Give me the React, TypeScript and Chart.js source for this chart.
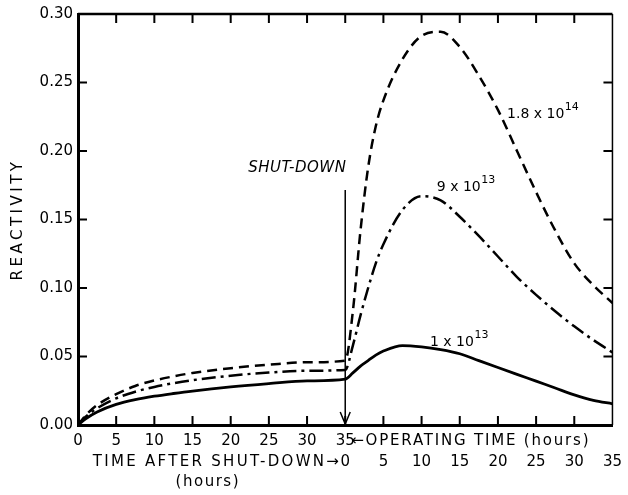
import React, { useEffect, useRef } from 'react';
import { Chart, registerables } from 'chart.js';

Chart.register(...registerables);

// Hours of operation (first phase, plotted 0..35)
const operatingTime = [0, 1, 2.5, 5, 7.5, 10, 12.5, 15, 20, 25, 30, 35];
const fluxHighOperating = [0, 0.007, 0.0145, 0.0225, 0.0285, 0.0325, 0.0355, 0.038, 0.0415, 0.044, 0.0458, 0.047];
const fluxMidOperating = [0, 0.006, 0.0122, 0.0195, 0.0243, 0.0278, 0.0305, 0.0327, 0.036, 0.0383, 0.0396, 0.0402];
const fluxLowOperating = [0, 0.0045, 0.0095, 0.015, 0.0185, 0.021, 0.023, 0.0248, 0.0278, 0.0302, 0.0322, 0.0335];

// Hours after shut-down (second phase, plotted 35..70)
const shutdownTime = [0, 1, 2, 3, 4, 5, 7.5, 10, 12.5, 15, 17.5, 20, 22.5, 25, 27.5, 30, 32.5, 35];
const fluxHighShutdown = [0.047, 0.083, 0.142, 0.188, 0.218, 0.237, 0.267, 0.284, 0.287, 0.276, 0.255, 0.23, 0.2, 0.17, 0.142, 0.118, 0.102, 0.089];
const fluxMidShutdown = [0.0402, 0.058, 0.08, 0.1, 0.118, 0.132, 0.157, 0.167, 0.164, 0.152, 0.138, 0.123, 0.108, 0.095, 0.083, 0.072, 0.062, 0.053];
const fluxLowShutdown = [0.0335, 0.038, 0.043, 0.047, 0.051, 0.054, 0.058, 0.057, 0.055, 0.052, 0.047, 0.042, 0.037, 0.032, 0.027, 0.022, 0.018, 0.0155];

const PHASE_LENGTH = 35;
const xTickValues = [0, 5, 10, 15, 20, 25, 30, 35, 40, 45, 50, 55, 60, 65, 70];
const yTickValues = [0, 0.05, 0.1, 0.15, 0.2, 0.25, 0.3];

const seriesLabels = [
  { base: '1.8 x 10', sup: '14', x: 56.2, y: 0.228 },
  { base: '9 x 10', sup: '13', x: 47.0, y: 0.175 },
  { base: '1 x 10', sup: '13', x: 46.1, y: 0.062 },
];

function buildSeries(op: number[], sd: number[]) {
  const pts = operatingTime.map((t, i) => ({ x: t, y: op[i] }));
  shutdownTime.forEach((t, i) => {
    if (t === 0) return;
    pts.push({ x: PHASE_LENGTH + t, y: sd[i] });
  });
  return pts;
}

const FONT = '"DejaVu Sans", sans-serif';

const decorPlugin = {
  id: 'decor',
  afterDraw(chart: any) {
    const { ctx, chartArea, scales } = chart;
    const xs = scales.x;
    const ys = scales.y;
    const { left, right, top, bottom } = chartArea;
    ctx.save();
    ctx.strokeStyle = '#000';
    ctx.fillStyle = '#000';
    ctx.setLineDash([]);

    // frame top & right
    ctx.lineWidth = 2.5;
    ctx.beginPath();
    ctx.moveTo(left, top);
    ctx.lineTo(right, top);
    ctx.stroke();
    ctx.lineWidth = 1.5;
    ctx.beginPath();
    ctx.moveTo(right, top);
    ctx.lineTo(right, bottom);
    ctx.stroke();

    // inward ticks
    const tl = 9;
    ctx.lineWidth = 2;
    xTickValues.forEach((v) => {
      if (v === 0 || v === 70) return;
      const px = xs.getPixelForValue(v);
      ctx.beginPath();
      ctx.moveTo(px, bottom);
      ctx.lineTo(px, bottom - tl);
      ctx.moveTo(px, top);
      ctx.lineTo(px, top + tl);
      ctx.stroke();
    });
    yTickValues.forEach((v) => {
      if (v === 0 || v === 0.3) return;
      const py = ys.getPixelForValue(v);
      ctx.beginPath();
      ctx.moveTo(left, py);
      ctx.lineTo(left + tl, py);
      ctx.moveTo(right, py);
      ctx.lineTo(right - tl, py);
      ctx.stroke();
    });

    // shut-down arrow
    const ax = xs.getPixelForValue(PHASE_LENGTH);
    const aTop = ys.getPixelForValue(0.1715);
    ctx.lineWidth = 1.5;
    ctx.beginPath();
    ctx.moveTo(ax, aTop);
    ctx.lineTo(ax, bottom - 1);
    ctx.moveTo(ax - 5, bottom - 13);
    ctx.lineTo(ax, bottom - 1);
    ctx.lineTo(ax + 5, bottom - 13);
    ctx.stroke();

    // SHUT-DOWN label
    ctx.font = `italic 15px ${FONT}`;
    ctx.textBaseline = 'middle';
    ctx.textAlign = 'left';
    (ctx as any).letterSpacing = '0.5px';
    ctx.fillText('SHUT-DOWN', xs.getPixelForValue(22.3), ys.getPixelForValue(0.1876));

    // series labels with superscripts
    (ctx as any).letterSpacing = '0px';
    seriesLabels.forEach((l) => {
      const px = xs.getPixelForValue(l.x);
      const py = ys.getPixelForValue(l.y);
      ctx.font = `14px ${FONT}`;
      ctx.fillText(l.base, px, py + 2);
      const w = ctx.measureText(l.base).width;
      ctx.font = `11px ${FONT}`;
      ctx.fillText(l.sup, px + w + 0.5, py - 5);
    });

    // axis texts
    ctx.font = `15px ${FONT}`;
    const row1 = bottom + 6 + 10.5;
    const row2 = row1 + 21;
    ctx.textAlign = 'left';
    (ctx as any).letterSpacing = '1.8px';
    ctx.fillText('\u2190OPERATING TIME (hours)', ax + 6, row1);
    ctx.textAlign = 'right';
    (ctx as any).letterSpacing = '2.3px';
    ctx.fillText('TIME AFTER SHUT-DOWN\u2192', ax - 4, row2);
    ctx.textAlign = 'center';
    (ctx as any).letterSpacing = '1.5px';
    ctx.fillText('(hours)', xs.getPixelForValue(17), row2 + 20);

    // y title
    ctx.save();
    (ctx as any).letterSpacing = '3.5px';
    ctx.translate(18, ys.getPixelForValue(0.15));
    ctx.rotate(-Math.PI / 2);
    ctx.textAlign = 'center';
    ctx.fillText('REACTIVITY', 0, 0);
    ctx.restore();

    ctx.restore();
  },
};

export default function App() {
  const ref = useRef<HTMLCanvasElement | null>(null);
  useEffect(() => {
    if (!ref.current) return;
    const chart = new Chart(ref.current, {
      type: 'line',
      data: {
        datasets: [
          {
            label: '1.8 x 10^14',
            data: buildSeries(fluxHighOperating, fluxHighShutdown),
            borderColor: '#000',
            borderWidth: 2.5,
            borderDash: [10, 6],
            pointRadius: 0,
            cubicInterpolationMode: 'monotone',
          },
          {
            label: '9 x 10^13',
            data: buildSeries(fluxMidOperating, fluxMidShutdown),
            borderColor: '#000',
            borderWidth: 2.5,
            borderDash: [14, 5, 3, 5],
            pointRadius: 0,
            cubicInterpolationMode: 'monotone',
          },
          {
            label: '1 x 10^13',
            data: buildSeries(fluxLowOperating, fluxLowShutdown),
            borderColor: '#000',
            borderWidth: 2.8,
            pointRadius: 0,
            cubicInterpolationMode: 'monotone',
          },
        ],
      },
      options: {
        animation: false,
        responsive: false,
        maintainAspectRatio: false,
        layout: { padding: { left: 0, top: 14, right: 10, bottom: 0 } },
        plugins: { legend: { display: false }, tooltip: { enabled: false } },
        scales: {
          x: {
            type: 'linear',
            min: 0,
            max: 70,
            grid: { display: false, drawTicks: false },
            border: { display: true, color: '#000', width: 3 },
            afterBuildTicks: (s: any) => {
              s.ticks = xTickValues.map((v) => ({ value: v }));
            },
            afterFit: (s: any) => {
              s.height = 70;
            },
            ticks: {
              autoSkip: false,
              maxRotation: 0,
              padding: 6,
              color: '#000',
              font: { family: FONT, size: 15, lineHeight: 1.4 },
              callback: (v: any) => {
                const n = Number(v);
                if (n < PHASE_LENGTH) return String(n);
                if (n === PHASE_LENGTH) return ['35', '0'];
                return ['', String(n - PHASE_LENGTH)];
              },
            },
          },
          y: {
            type: 'linear',
            min: 0,
            max: 0.3,
            grid: { display: false, drawTicks: false },
            border: { display: true, color: '#000', width: 3 },
            afterBuildTicks: (s: any) => {
              s.ticks = yTickValues.map((v) => ({ value: v }));
            },
            afterFit: (s: any) => {
              s.width = 78;
            },
            ticks: {
              padding: 5,
              color: '#000',
              font: { family: FONT, size: 15 },
              callback: (v: any) => Number(v).toFixed(2),
            },
          },
        },
      },
      plugins: [decorPlugin],
    } as any);
    return () => chart.destroy();
  }, []);
  return (
    <div style={{ position: 'fixed', left: 0, top: 0, width: 628, height: 495, background: '#fff' }}>
      <canvas ref={ref} width={628} height={495} style={{ width: 628, height: 495 }} />
    </div>
  );
}
